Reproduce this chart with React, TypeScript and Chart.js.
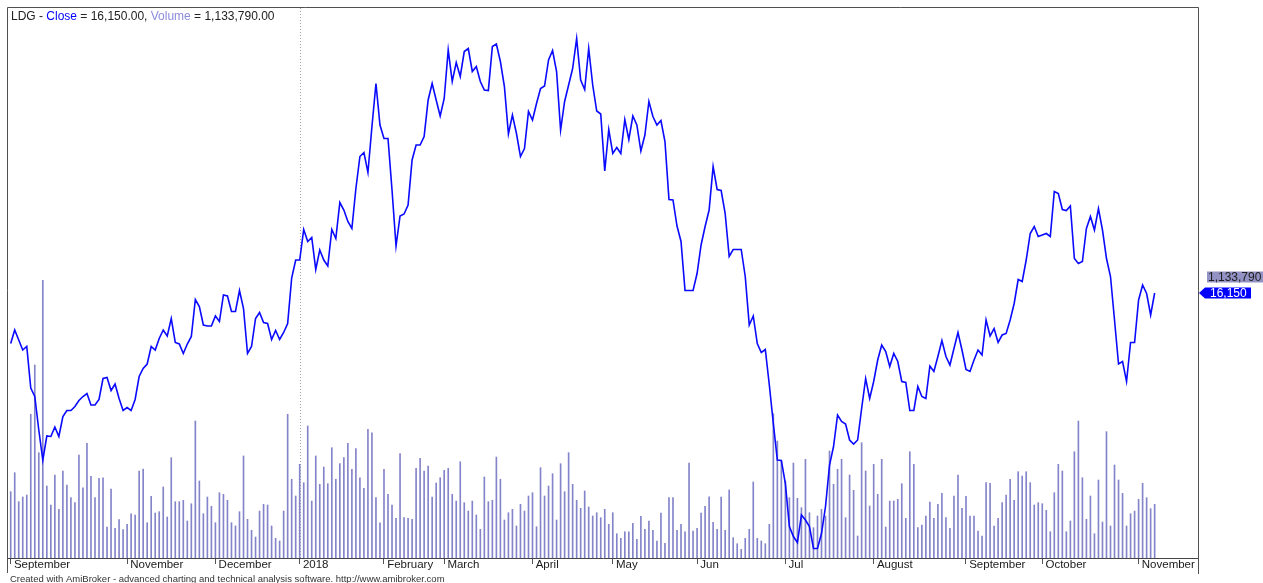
import React, { useEffect, useRef } from 'react';
import { Chart, registerables } from 'chart.js';

Chart.register(...registerables);

// ---------------- DATA ----------------
const tickerName = 'LDG';
const lastClose = 16150;
const lastVolume = 1133790;

// Daily close prices (VND)
const closePrices = [
  15140, 15410, 15210, 15010, 15080, 14250, 14080, 13410, 12810, 13290,
  13280, 13470, 13280, 13680, 13800, 13800, 13880, 14000, 14080, 14140,
  13910, 13910, 14020, 14440, 14460, 14200, 14330, 14040, 13800, 13860,
  13800, 14020, 14480, 14640, 14730, 15080, 15010, 15240, 15410, 15290,
  15640, 15160, 15130, 14940, 15130, 15280, 16020, 15880, 15510, 15490,
  15490, 15690, 15580, 16110, 16090, 15780, 15780, 16200, 15840, 14940,
  15080, 15640, 15760, 15560, 15540, 15220, 15400, 15220, 15360, 15540,
  16450, 16810, 16810, 17420, 17180, 17260, 16620, 17010, 16810, 16690,
  17420, 17240, 17960, 17810, 17580, 17440, 18240, 18880, 18960, 18560,
  19480, 20340, 19510, 19240, 19240, 18210, 17090, 17690, 17730, 17910,
  18810, 19110, 19110, 19280, 20010, 20340, 20010, 19690, 20040, 21010,
  20380, 20760, 20480, 20980, 21040, 20580, 20680, 20380, 20210, 20200,
  21080, 21130, 20780, 20280, 19330, 19710, 19340, 18880, 19040, 19780,
  19610, 19940, 20240, 20290, 20810, 21000, 20580, 19410, 19980, 20310,
  20640, 21240, 20410, 20220, 21040, 20310, 19790, 19730, 18590, 19420,
  18940, 19060, 18940, 19620, 19220, 19690, 19510, 18990, 19310, 19980,
  19680, 19510, 19600, 19180, 18020, 18010, 17490, 17180, 16200, 16200,
  16200, 16540, 17110, 17480, 17810, 18680, 18220, 18200, 17740, 16880,
  17020, 17020, 17020, 16480, 15510, 15690, 15140, 14960, 15020, 14310,
  13540, 12810, 12800, 12340, 11480, 11280, 11160, 11710, 11610, 11480,
  11040, 11040, 11340, 11880, 12710, 13080, 13710, 13580, 13530, 13210,
  13130, 13210, 13840, 14440, 14040, 14380, 14810, 15110, 14980, 14680,
  14940, 14780, 14380, 14360, 13800, 13800, 14280, 14080, 14040, 14690,
  14580, 14880, 15200, 14880, 14710, 15040, 15360, 15010, 14620, 14580,
  14810, 15010, 14910, 15610, 15290, 15440, 15160, 15310, 15340, 15610,
  15940, 16420, 16380, 16810, 17340, 17480, 17280, 17310, 17340, 17280,
  18180, 18140, 17820, 17800, 17890, 16840, 16740, 16780, 17440, 17680,
  17410, 17840, 17410, 16840, 16480, 15610, 14730, 14780, 14380, 15160,
  15160, 16010, 16310, 16140, 15710, 16150,
];

// Daily volume, thousands of shares
const volumeThousands = [
  1400, 1801, 1189, 1288, 1330, 3034, 4075, 2223, 5863, 1520,
  1119, 1752, 1028, 1837, 1541, 1273, 1168, 2175, 1484, 2422,
  1725, 1273, 1683, 1695, 654, 1457, 627, 809, 598, 712,
  935, 908, 1837, 1879, 745, 1303, 950, 978, 1499, 866,
  2118, 1189, 1189, 1218, 781, 1146, 2892, 1626, 935, 1288,
  1092, 745, 1379, 1345, 1218, 745, 676, 978, 2154, 817,
  585, 443, 992, 1134, 1119, 676, 416, 359, 992, 3034,
  1662, 1309, 1978, 1590, 2787, 1203, 2154, 1556, 1921, 1569,
  2329, 1662, 1991, 2118, 2422, 1873, 2308, 1695, 1472, 2717,
  2645, 1273, 745, 1873, 1345, 1119, 838, 2202, 851, 838,
  817, 1894, 2105, 1837, 1942, 1288, 1583, 1695, 1852, 1894,
  1345, 1203, 2033, 1168, 992, 1203, 908, 606, 1710, 1189,
  1218, 2132, 1662, 802, 956, 1028, 676, 1134, 992, 1309,
  1379, 661, 1907, 1309, 1520, 1780, 802, 1991, 1400, 2223,
  1556, 1218, 1049, 1415, 1077, 887, 956, 851, 1028, 712,
  956, 513, 416, 555, 555, 733, 395, 880, 606, 781,
  585, 359, 950, 310, 1273, 1273, 585, 712, 555, 2006,
  570, 627, 950, 1092, 1294, 754, 606, 1288, 585, 1436,
  429, 302, 184, 416, 606, 1605, 416, 359, 302, 712,
  3047, 2470, 2048, 1626, 1273, 2006, 1260, 1062, 2084, 956,
  640, 887, 1028, 887, 2259, 1556, 1873, 2084, 851, 1752,
  1429, 464, 2434, 1837, 1098, 1978, 1345, 2084, 654, 1203,
  1203, 1239, 1569, 838, 2244, 1978, 640, 697, 887, 1182,
  838, 1134, 1366, 851, 627, 1309, 1752, 1049, 1303, 887,
  887, 570, 464, 1590, 1577, 676, 838, 1168, 1330, 1662,
  1218, 1822, 1731, 1822, 1590, 1119, 1168, 1146, 1007, 555,
  1379, 1978, 1837, 555, 781, 2244, 2892, 1695, 817, 1309,
  513, 1647, 760, 2667, 676, 1964, 1647, 1366, 676, 935,
  992, 1239, 1577, 1273, 1041, 1133.79,
];

// First trading bar of each labelled month
const monthTickIndex = [0, 29, 51, 72, 93, 108, 130, 150, 171, 193, 215, 238, 257, 281];
const monthTickLabels = [
  'September', 'November', 'December', '2018', 'February', 'March', 'April',
  'May', 'Jun', 'Jul', 'August', 'September', 'October', 'November',
];
const yearBreakIndex = 72;

const footerText =
  'Created with AmiBroker - advanced charting and technical analysis software. http://www.amibroker.com';

// ---------------- STYLE ----------------
const FONT = '"Liberation Sans", Arial, Helvetica, sans-serif';
const fmt2 = (v: number) =>
  v.toLocaleString('en-US', { minimumFractionDigits: 2, maximumFractionDigits: 2 });
const fmt0 = (v: number) => v.toLocaleString('en-US', { maximumFractionDigits: 0 });

const decorPlugin = {
  id: 'amiDecor',
  beforeDatasetsDraw(chart: any) {
    const { ctx, chartArea, scales } = chart;
    const x = Math.round(scales.x.getPixelForValue(yearBreakIndex)) + 0.5;
    ctx.save();
    ctx.strokeStyle = '#a0a0a0';
    ctx.lineWidth = 1;
    ctx.setLineDash([1, 2]);
    ctx.beginPath();
    ctx.moveTo(x, chartArea.top);
    ctx.lineTo(x, chartArea.bottom);
    ctx.stroke();
    ctx.restore();
  },
  afterDraw(chart: any) {
    const { ctx, chartArea, scales } = chart;
    const { left, right, top } = chartArea;
    ctx.save();
    // frame
    ctx.strokeStyle = '#505050';
    ctx.lineWidth = 1;
    ctx.beginPath();
    ctx.moveTo(left - 0.5, 573);
    ctx.lineTo(left - 0.5, top - 0.5);
    ctx.lineTo(right + 0.5, top - 0.5);
    ctx.lineTo(right + 0.5, 574);
    ctx.stroke();

    // title
    ctx.font = `12px ${FONT}`;
    ctx.textBaseline = 'alphabetic';
    ctx.textAlign = 'left';
    const parts: [string, string][] = [
      [`${tickerName} - `, '#222222'],
      ['Close', '#0000ff'],
      [` = ${fmt2(lastClose)}, `, '#222222'],
      ['Volume', '#8c8cdc'],
      [` = ${fmt2(lastVolume)}`, '#222222'],
    ];
    let tx = left + 3;
    for (const [t, c] of parts) {
      ctx.fillStyle = c;
      ctx.fillText(t, tx, 20);
      tx += ctx.measureText(t).width;
    }

    // footer
    ctx.font = `9.5px ${FONT}`;
    ctx.fillStyle = '#333333';
    ctx.fillText(footerText, 10, 581.5);

    // right value tags
    const yP = scales.yPrice.getPixelForValue(lastClose);
    const rx = right + 1;
    ctx.fillStyle = '#0000ff';
    ctx.beginPath();
    ctx.moveTo(rx, yP);
    ctx.lineTo(rx + 6, yP - 5.5);
    ctx.lineTo(rx + 52, yP - 5.5);
    ctx.lineTo(rx + 52, yP + 5.5);
    ctx.lineTo(rx + 6, yP + 5.5);
    ctx.closePath();
    ctx.fill();
    ctx.font = `12px ${FONT}`;
    ctx.textBaseline = 'middle';
    ctx.fillStyle = '#ffffff';
    ctx.fillText(fmt0(lastClose), rx + 11, yP + 0.5);

    const yV = yP - 16;
    ctx.fillStyle = '#9292c4';
    ctx.fillRect(rx + 8, yV - 5.5, 70, 11);
    ctx.fillStyle = '#1e1e1e';
    ctx.fillText(fmt0(lastVolume), rx + 9, yV + 0.5);
    ctx.restore();
  },
};

export default function App() {
  const canvasRef = useRef<HTMLCanvasElement | null>(null);

  useEffect(() => {
    const canvas = canvasRef.current;
    if (!canvas) return;
    const labelMap = new Map<number, string>();
    monthTickIndex.forEach((v, i) => labelMap.set(v, monthTickLabels[i]));

    const chart = new Chart(canvas, {
      type: 'bar',
      data: {
        datasets: [
          {
            type: 'line',
            label: 'Close',
            data: closePrices.map((v, i) => ({ x: i, y: v })),
            yAxisID: 'yPrice',
            borderColor: '#0a0aff',
            borderWidth: 1.6,
            pointRadius: 0,
            tension: 0,
            fill: false,
            order: 0,
          } as any,
          {
            type: 'bar',
            label: 'Volume',
            data: volumeThousands.map((v, i) => ({ x: i, y: v })),
            yAxisID: 'yVol',
            backgroundColor: '#8484ca',
            borderWidth: 0,
            barThickness: 1,
            order: 1,
          } as any,
        ],
      },
      options: {
        responsive: false,
        animation: false,
        devicePixelRatio: 1,
        layout: { padding: { left: 8, top: 8, right: 65, bottom: 0 } },
        plugins: {
          legend: { display: false },
          tooltip: { enabled: false },
        },
        scales: {
          x: {
            type: 'linear',
            min: -0.673,
            max: 295.8,
            bounds: 'data',
            offset: false,
            afterBuildTicks: (s: any) => {
              s.ticks = monthTickIndex.map((v) => ({ value: v }));
            },
            afterFit: (s: any) => {
              s.height = 25;
              s.paddingLeft = 0;
              s.paddingRight = 0;
            },
            grid: {
              offset: false,
              drawOnChartArea: false,
              drawTicks: true,
              tickLength: 6,
              color: '#555555',
              lineWidth: 1,
            },
            border: { display: true, color: '#444444', width: 1 },
            ticks: {
              align: 'start',
              padding: -6,
              autoSkip: false,
              maxRotation: 0,
              minRotation: 0,
              color: '#1a1a1a',
              font: { family: FONT, size: 11.5 },
              callback: (value: any) => ' ' + (labelMap.get(Number(value)) ?? ''),
            },
          } as any,
          yPrice: {
            type: 'linear',
            display: false,
            min: 10850,
            max: 21850,
          },
          yVol: {
            type: 'linear',
            display: false,
            min: 0,
            max: 11612,
          },
        },
      },
      plugins: [decorPlugin],
    });
    return () => chart.destroy();
  }, []);

  return (
    <div style={{ position: 'absolute', left: 0, top: 0, width: 1263, height: 583, background: '#fff' }}>
      <canvas ref={canvasRef} width={1263} height={583} style={{ display: 'block' }} />
    </div>
  );
}
